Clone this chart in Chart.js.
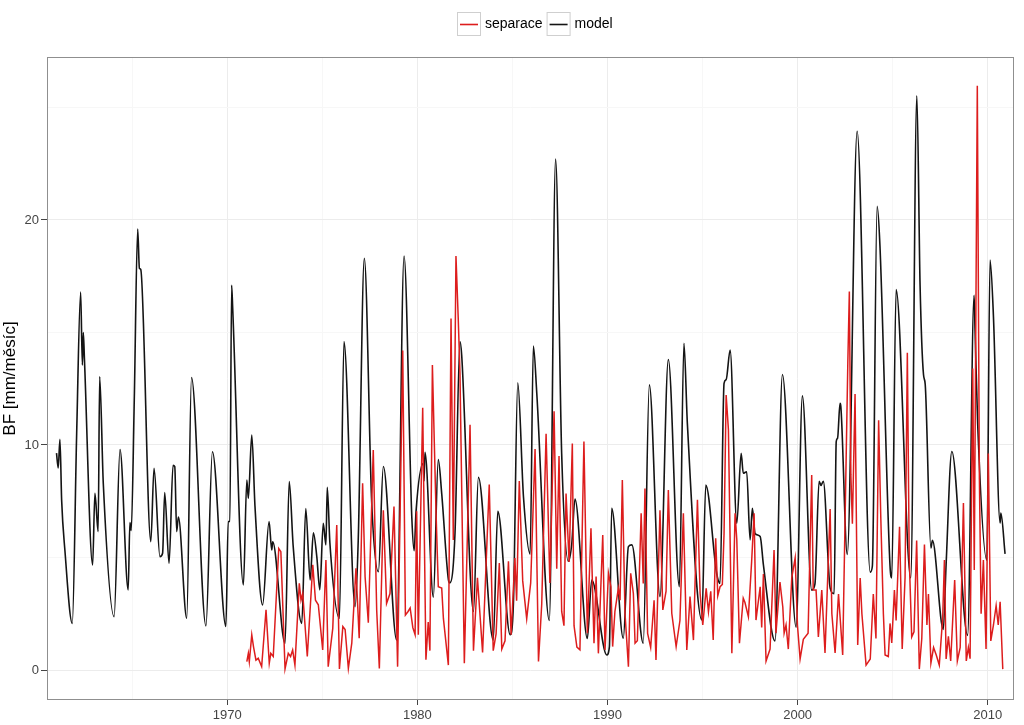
<!DOCTYPE html>
<html><head><meta charset="utf-8">
<script src="https://cdn.jsdelivr.net/npm/chart.js@4/dist/chart.umd.min.js"></script>
<style>html,body{margin:0;padding:0;background:#fff}#wrap{width:1024px;height:725px;position:relative}</style>
</head><body><div id="wrap"><canvas id="c" width="1024" height="725"></canvas></div>
<script>
// ---- data ----
const seriesNames = ['separace', 'model'];
const modelYears = [1961.02,1961.11,1961.20,1961.29,1961.46,1961.85,1962.08,1962.29,1962.38,1962.43,1962.49,1962.92,1963.04,1963.21,1963.29,1963.48,1964.05,1964.36,1964.79,1964.88,1964.95,1965.11,1965.29,1965.38,1965.45,1965.98,1966.15,1966.46,1966.60,1966.71,1966.94,1967.15,1967.24,1967.34,1967.43,1967.87,1968.12,1968.88,1969.22,1969.93,1970.05,1970.14,1970.23,1970.29,1970.85,1971.03,1971.11,1971.29,1971.46,1971.86,1972.20,1972.34,1972.39,1973.04,1973.26,1973.47,1973.92,1974.13,1974.36,1974.53,1974.71,1974.87,1975.05,1975.19,1975.26,1975.40,1975.90,1976.14,1976.72,1976.89,1977.21,1977.60,1977.95,1978.21,1978.91,1979.30,1979.71,1979.83,1979.93,1980.31,1980.35,1980.40,1980.84,1981.10,1981.28,1981.63,1981.71,1981.98,1982.24,1982.33,1982.95,1983.21,1983.99,1984.23,1984.88,1985.05,1985.28,1985.58,1985.93,1986.10,1986.28,1986.94,1987.27,1987.59,1987.94,1988.12,1988.29,1988.94,1989.17,1989.96,1990.10,1990.22,1990.83,1991.10,1991.28,1991.88,1992.20,1992.76,1993.20,1993.78,1994.02,1994.20,1994.96,1995.17,1995.74,1995.92,1996.13,1996.24,1996.45,1996.80,1997.03,1997.14,1997.32,1997.50,1997.62,1997.76,1998.03,1998.20,1998.81,1999.20,1999.92,2000.25,2000.74,2000.91,2001.13,2001.23,2001.35,2001.71,2001.92,2002.03,2002.10,2002.23,2002.27,2002.61,2003.13,2003.82,2003.93,2004.18,2004.33,2004.86,2004.95,2005.18,2005.95,2006.27,2006.44,2006.62,2006.71,2007.01,2007.09,2007.66,2007.81,2008.11,2008.94,2009.28,2009.33,2009.47,2009.95,2010.12,2010.30,2010.65,2010.69,2010.91];
const modelValues = [9.64,8.98,10.25,7.55,5.33,2.07,10.5,16.8,13.55,15.0,13.8,4.67,7.85,6.15,13.04,8.3,2.37,9.8,3.56,6.55,6.2,12.0,19.6,17.85,17.8,5.7,8.96,5.04,5.19,7.88,4.74,9.1,9.04,6.15,6.8,2.3,13.0,1.96,9.7,1.93,6.6,6.6,17.1,16.0,3.78,8.44,7.63,10.44,7.26,2.89,6.6,5.33,5.7,1.19,8.37,5.48,2.07,7.18,4.0,6.1,5.04,3.56,6.52,5.56,8.12,5.63,2.3,14.6,2.81,5.78,18.3,7.4,4.37,9.04,1.33,18.4,6.73,5.3,7.05,9.19,8.4,9.67,3.24,9.35,7.84,4.03,3.87,6.1,14.6,14.0,2.6,8.56,1.33,7.05,1.57,2.93,12.76,7.7,5.15,14.4,12.3,2.2,22.7,9.6,4.83,5.6,7.6,1.4,4.0,0.67,1.04,7.19,1.41,5.48,5.56,1.19,12.67,3.26,13.8,3.7,14.52,10.96,2.22,8.22,4.3,3.85,12.74,12.9,14.22,6.52,9.63,8.74,8.81,5.78,7.19,6.07,5.93,4.67,1.29,13.13,1.9,12.18,3.55,3.82,8.39,8.2,8.39,3.64,3.39,10.15,10.3,11.85,11.73,5.14,23.94,4.35,4.61,20.6,18.84,4.62,4.09,16.91,4.09,25.52,17.09,13.13,12.7,5.42,5.76,1.8,4.71,9.71,1.54,16.65,15.16,10.93,4.88,18.22,15.69,6.53,6.98,5.16];
const sepYears = [1971.03,1971.11,1971.16,1971.29,1971.38,1971.51,1971.63,1971.81,1972.04,1972.21,1972.29,1972.42,1972.71,1972.82,1973.04,1973.21,1973.33,1973.44,1973.56,1973.79,1973.88,1973.97,1974.21,1974.50,1974.64,1974.79,1975.02,1975.19,1975.31,1975.55,1975.76,1975.90,1976.08,1976.20,1976.37,1976.55,1976.77,1976.94,1977.12,1977.25,1977.42,1977.68,1977.86,1978.00,1978.21,1978.38,1978.56,1978.77,1978.96,1979.23,1979.37,1979.51,1979.62,1979.76,1979.88,1979.96,1980.05,1980.28,1980.45,1980.57,1980.66,1980.79,1980.98,1981.10,1981.28,1981.37,1981.63,1981.77,1981.89,1982.03,1982.15,1982.24,1982.47,1982.77,1982.95,1983.16,1983.43,1983.78,1983.99,1984.14,1984.31,1984.44,1984.61,1984.79,1984.93,1985.13,1985.22,1985.36,1985.54,1985.75,1985.96,1986.19,1986.37,1986.54,1986.77,1986.97,1987.19,1987.33,1987.45,1987.59,1987.71,1987.82,1987.98,1988.15,1988.24,1988.39,1988.55,1988.76,1988.94,1989.13,1989.29,1989.40,1989.52,1989.75,1989.87,1990.05,1990.18,1990.27,1990.39,1990.57,1990.66,1990.78,1990.92,1991.10,1991.22,1991.36,1991.45,1991.57,1991.77,1991.88,1991.97,1992.11,1992.27,1992.45,1992.55,1992.76,1992.91,1993.08,1993.20,1993.38,1993.61,1993.81,1993.99,1994.17,1994.34,1994.52,1994.73,1994.87,1995.01,1995.19,1995.31,1995.43,1995.56,1995.69,1995.80,1995.92,1996.04,1996.13,1996.24,1996.36,1996.54,1996.71,1996.80,1996.94,1997.14,1997.23,1997.41,1997.58,1997.71,1997.81,1998.03,1998.11,1998.20,1998.34,1998.55,1998.76,1998.86,1999.07,1999.22,1999.29,1999.39,1999.51,1999.69,1999.87,1999.99,2000.13,2000.30,2000.55,2000.74,2000.82,2000.97,2001.09,2001.27,2001.44,2001.71,2001.80,2001.97,2002.15,2002.37,2002.64,2002.72,2002.80,2002.88,2003.02,2003.16,2003.29,2003.38,2003.60,2003.82,2003.98,2004.12,2004.26,2004.37,2004.51,2004.60,2004.77,2004.86,2004.95,2005.09,2005.18,2005.36,2005.50,2005.65,2005.77,2005.87,2006.00,2006.12,2006.26,2006.40,2006.53,2006.67,2006.80,2006.88,2007.01,2007.15,2007.29,2007.45,2007.63,2007.72,2007.81,2007.93,2008.05,2008.26,2008.40,2008.55,2008.72,2008.87,2008.98,2009.07,2009.21,2009.29,2009.45,2009.56,2009.65,2009.77,2009.91,2010.03,2010.16,2010.30,2010.44,2010.55,2010.65,2010.79];
const sepValues = [0.37,0.74,0.37,1.56,1.04,0.44,0.52,0.15,2.67,0.3,0.74,0.6,5.4,5.26,0.05,0.74,0.6,0.89,0.22,3.85,3.1,3.4,0.6,4.67,3.1,2.9,0.89,4.89,0.15,1.85,6.44,0.05,1.93,1.8,0.07,1.19,4.52,1.41,8.3,4.15,2.1,9.78,2.67,0.07,7.1,2.96,3.4,7.26,0.15,14.2,2.44,2.6,2.76,1.89,1.57,7.05,1.57,11.65,0.46,2.13,0.86,13.55,7.05,3.7,3.64,2.28,0.22,15.62,5.78,18.4,15.6,13.2,0.3,10.9,0.86,4.1,0.78,8.24,0.86,1.6,4.75,0.93,1.3,4.83,1.57,4.98,3.08,8.4,3.96,2.28,3.87,9.82,0.38,2.92,10.5,3.87,11.5,4.5,9.51,2.6,1.97,7.84,4.8,10.06,1.97,1.02,0.9,10.15,1.63,6.3,1.19,4.15,0.74,6.0,0.89,4.3,3.7,1.04,2.6,3.63,3.1,8.44,2.52,0.15,4.3,3.4,1.19,1.3,6.96,3.85,8.07,1.63,1.0,3.1,0.44,7.1,2.67,3.5,8.0,2.52,1.04,2.2,6.96,0.89,3.26,1.33,7.56,3.41,2.0,3.63,2.6,3.5,1.33,5.85,3.3,3.7,3.8,6.07,12.22,10.67,0.74,6.96,5.8,1.19,3.19,3.0,2.37,4.81,6.96,2.22,3.7,1.89,4.27,0.4,0.93,5.33,1.64,3.91,2.8,1.64,2.0,0.93,4.09,4.98,2.0,0.49,1.36,1.63,8.67,3.55,3.55,1.47,3.55,0.76,7.15,2.5,0.76,3.38,0.67,13.66,16.82,8.67,6.5,12.26,1.11,4.09,2.5,0.22,0.49,3.38,1.4,11.1,6.9,2.5,0.67,0.6,2.07,1.2,3.55,2.2,6.37,0.93,4.1,14.1,4.98,1.47,1.7,5.75,0.04,1.4,5.58,2.0,3.38,0.31,1.0,0.67,0.22,2.33,4.89,0.49,1.5,0.4,4.0,0.4,1.0,7.42,0.4,1.0,0.5,13.4,4.44,25.96,8.49,2.5,4.89,0.93,9.62,1.29,2.0,2.86,2.0,3.03,0.04];
const xMajorTicks = [1970, 1980, 1990, 2000, 2010];
const xMinorTicks = [1965, 1975, 1985, 1995, 2005];
const yMajorTicks = [0, 10, 20];
const yMinorTicks = [5, 15, 25];
const yTitle = 'BF [mm/měsíc]';

// ---- styles ----
const RED = '#dd1d1d', BLACK = '#141414';
const FONT = '"Liberation Sans", Arial, Helvetica, sans-serif';

function toPoints(xs, ys) { return xs.map((x, i) => ({ x: x, y: ys[i] })); }
function allTicks(major, minor) { return major.concat(minor).sort((a, b) => a - b).map(v => ({ value: v })); }

const panelPlugin = {
  id: 'panel',
  beforeDraw(chart) {
    const c = chart.ctx;
    c.save(); c.fillStyle = '#fff'; c.fillRect(0, 0, chart.width, chart.height); c.restore();
  },
  afterDraw(chart) {
    const c = chart.ctx, a = chart.chartArea;
    c.save();
    c.strokeStyle = '#8f8f8f'; c.lineWidth = 1;
    c.strokeRect(Math.round(a.left) + 0.5, Math.round(a.top) + 0.5, Math.round(a.right - a.left) - 1, Math.round(a.bottom - a.top) - 1);
    // legend
    const colors = [RED, BLACK];
    c.font = '14px ' + FONT;
    c.textBaseline = 'middle';
    const box = 23, g1 = 5, g2 = 4;
    const widths = seriesNames.map(n => c.measureText(n).width);
    let total = 0;
    widths.forEach((w, i) => { total += box + g1 + w + (i < widths.length - 1 ? g2 : 0); });
    let x = Math.round(534.5 - total / 2);
    const yTop = 12, yMid = yTop + box / 2;
    seriesNames.forEach((n, i) => {
      c.strokeStyle = '#cfcfcf'; c.lineWidth = 1;
      c.strokeRect(x + 0.5, yTop + 0.5, box, box);
      c.strokeStyle = colors[i]; c.lineWidth = 1.6;
      c.beginPath(); c.moveTo(x + 3, Math.round(yMid) + 0.5); c.lineTo(x + box - 2, Math.round(yMid) + 0.5); c.stroke();
      c.fillStyle = '#000';
      c.fillText(n, x + box + g1, yMid + 1);
      x += box + g1 + widths[i] + g2;
    });
    c.restore();
  }
};

new Chart(document.getElementById('c'), {
  type: 'line',
  data: {
    datasets: [
      { label: seriesNames[0], data: toPoints(sepYears, sepValues), borderColor: RED, borderWidth: 1.5, pointRadius: 0, tension: 0, fill: false },
      { label: seriesNames[1], data: toPoints(modelYears, modelValues), borderColor: BLACK, borderWidth: 1.6, pointRadius: 0, cubicInterpolationMode: 'monotone', fill: false }
    ]
  },
  options: {
    responsive: false, animation: false, devicePixelRatio: 1,
    layout: { padding: { top: 57, right: 10, left: 0, bottom: 0 } },
    plugins: { legend: { display: false }, tooltip: { enabled: false } },
    scales: {
      x: {
        type: 'linear', min: 1960.52, max: 2011.38,
        afterBuildTicks: s => { s.ticks = allTicks(xMajorTicks, xMinorTicks); },
        afterFit: s => { s.height = 25; },
        grid: {
          color: ctx => xMajorTicks.includes(ctx.tick && ctx.tick.value) ? '#ececec' : '#f7f7f7',
          tickColor: ctx => xMajorTicks.includes(ctx.tick && ctx.tick.value) ? '#444' : 'rgba(0,0,0,0)',
          tickLength: 5, drawTicks: true
        },
        border: { display: false },
        ticks: {
          autoSkip: false, maxRotation: 0, padding: 3, color: '#444', font: { size: 13, family: FONT },
          callback: v => xMajorTicks.includes(v) ? String(v) : ''
        }
      },
      y: {
        type: 'linear', min: -1.333, max: 27.24,
        afterBuildTicks: s => { s.ticks = allTicks(yMajorTicks, yMinorTicks); },
        afterFit: s => { s.width = 47; },
        grid: {
          color: ctx => yMajorTicks.includes(ctx.tick && ctx.tick.value) ? '#ececec' : '#f7f7f7',
          tickColor: ctx => yMajorTicks.includes(ctx.tick && ctx.tick.value) ? '#444' : 'rgba(0,0,0,0)',
          tickLength: 6, drawTicks: true
        },
        border: { display: false },
        title: { display: true, text: yTitle, color: '#000', font: { size: 17, family: FONT }, padding: { top: 0, bottom: 0 } },
        ticks: {
          autoSkip: false, padding: 2, color: '#444', font: { size: 13, family: FONT },
          callback: v => yMajorTicks.includes(v) ? String(v) : ''
        }
      }
    }
  },
  plugins: [panelPlugin]
});
</script>
</body></html>
